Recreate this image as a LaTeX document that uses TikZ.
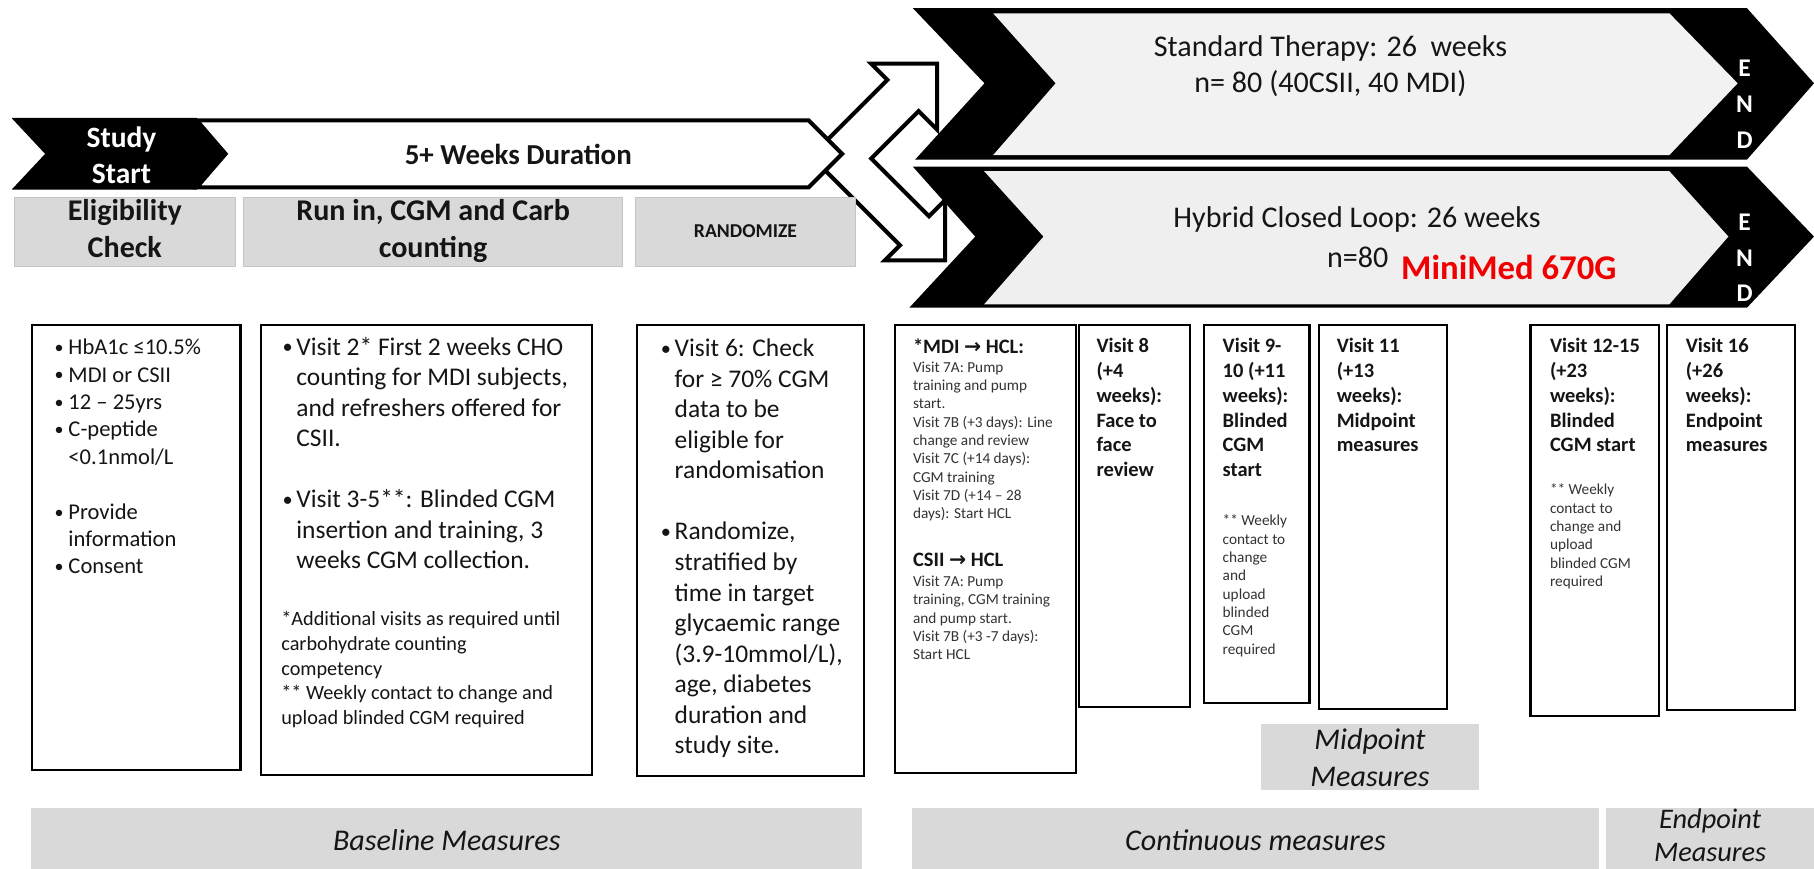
\documentclass[tikz,border=0pt]{standalone}
\usepackage{fontspec}
\usepackage{graphicx}
\setmainfont{Carlito}
\newfontfamily\dv{DejaVu Sans}
\definecolor{boxgrey}{HTML}{D9D9D9}
\definecolor{boxedge}{HTML}{C4C4C4}
\definecolor{lightfill}{HTML}{F2F2F2}
\definecolor{lightfillb}{HTML}{EFEFEF}
\definecolor{txtc}{HTML}{151515}
\definecolor{smallc}{HTML}{333333}
\definecolor{mmred}{HTML}{F00000}
\newcommand\tl[1]{\vtop{\halign{##\hfil\cr#1\crcr}}}
\newcommand\tcn[1]{\vtop{\halign{\hfil##\hfil\cr#1\crcr}}}
\newcommand\bl{\makebox[12pt][l]{\raisebox{0.1ex}{\scalebox{0.8}{•}}}}
\newcommand\ind{\hspace*{12pt}}
\begin{document}
\begin{tikzpicture}[x=1pt,y=-1pt,
  wbox/.style={draw=black, line width=1.8pt, fill=white, inner sep=0pt, anchor=north west},
  gbox/.style={draw=boxedge, line width=0.8pt, fill=boxgrey, inner sep=0pt, anchor=north west},
  gboxb/.style={draw=none, fill=boxgrey, inner sep=0pt, anchor=north west},
  arrowline/.style={draw=black, fill=white, line width=3.5pt, line join=miter},
  txt/.style={inner sep=0pt, anchor=base west, text=txtc},
  ctr/.style={inner sep=0pt, anchor=base, text=txtc},
  smalltxt/.style={txt, text=smallc, font=\fontsize{13.2}{15.85}\selectfont},
  boldvisit/.style={txt, font=\bfseries\fontsize{17.7}{21.4}\selectfont},
  bighead/.style={ctr, font=\bfseries\fontsize{26}{32}\selectfont},
  chevtxt/.style={ctr, font=\fontsize{26}{31}\selectfont},
  endtxt/.style={ctr, text=white, font=\bfseries\fontsize{22}{31}\selectfont},
  itxt/.style={ctr, font=\itshape\fontsize{26}{32}\selectfont}
]
\useasboundingbox (0,0) rectangle (1568,751);

% ---- right-hand therapy chevrons ----
\fill[black] (789,7) -- (1510,7) -- (1568,72) -- (1510,138) -- (791,138) -- (851,72) -- cycle;
\fill[lightfill] (858.5,11.5) -- (1443,11.5) -- (1502,72) -- (1443,134) -- (858.5,134) -- (912.5,72) -- cycle;
\fill[black] (789,144) -- (1510,144) -- (1568,204.5) -- (1510,266) -- (786,266) -- (843,204.5) -- cycle;
\fill[lightfillb] (850.7,148) -- (1443,148) -- (1494,204.5) -- (1443,263) -- (850.7,263) -- (902,204.5) -- cycle;

% ---- split (randomisation) arrow ----
\draw[arrowline] (715.5,120.5) -- (767,69) -- (753,55) -- (810,55) -- (810,112) -- (794,96)
  -- (753,137) -- (803,187) -- (817,173) -- (817,225) -- (765,225) -- (778,212) -- (713.5,147.5) -- cycle;

% ---- 5+ weeks arrow and study start chevron ----
\draw[arrowline] (170,104) -- (699,104) -- (728,133) -- (699,162) -- (170,162) -- (195,133) -- cycle;
\fill[black] (10,102) -- (170,102) -- (196,133) -- (170,164) -- (10,164) -- (39,133) -- cycle;

\node[ctr, text=white, font=\bfseries\fontsize{25.5}{31}\selectfont] (ss) at (105,127.5) {\tcn{Study\cr Start}};
\node[ctr, font=\bfseries\fontsize{25}{30}\selectfont] (dur) at (448,142) {5+ Weeks Duration};

% ---- chevron texts ----
\node[chevtxt] (stdt) at (1150,49) {\tcn{Standard Therapy: 26\ \ weeks\cr n= 80 (40CSII, 40 MDI)}};
\node[chevtxt] (hclt) at (1173,197) {Hybrid Closed Loop: 26 weeks};
\node[txt, font=\fontsize{26}{31}\selectfont] (n80) at (1147,231) {n=80};
\node[txt, text=mmred, font=\bfseries\fontsize{30}{36}\selectfont] (mm) at (1211,242) {MiniMed 670G};
\node[endtxt] (end1) at (1508,66) {\tcn{E\cr N\cr D}};
\node[endtxt] (end2) at (1508,199) {\tcn{E\cr N\cr D}};

% ---- grey header boxes ----
\node[gbox, minimum width=191pt, minimum height=59pt] (elig) at (12,170.5) {};
\node[gbox, minimum width=328pt, minimum height=59pt] (runin) at (210,170.5) {};
\node[gbox, minimum width=190pt, minimum height=59pt] (rand) at (549,170.5) {};
\node[bighead] (eligt) at (elig.north |- 0,191) {\tcn{Eligibility\cr Check}};
\node[bighead] (runint) at (runin.north |- 0,191) {\tcn{Run in, CGM and Carb\cr counting}};
\node[ctr, font=\bfseries\fontsize{17}{20}\selectfont] (randt) at (rand.north |- 0,205.5) {RANDOMIZE};

% ---- white detail boxes ----
\node[wbox, minimum width=180pt, minimum height=385pt] (b1) at (27,280) {};
\node[wbox, minimum width=286pt, minimum height=389pt] (b2) at (225,280) {};
\node[wbox, minimum width=196pt, minimum height=390pt] (b3) at (550,280) {};
\node[wbox, minimum width=156pt, minimum height=387pt] (b4) at (773,280) {};
\node[wbox, minimum width=96pt, minimum height=330pt] (b5) at (932,280) {};
\node[wbox, minimum width=91pt, minimum height=327pt] (b6) at (1040,280) {};
\node[wbox, minimum width=111pt, minimum height=332pt] (b7) at (1139,280) {};
\node[wbox, minimum width=111pt, minimum height=338pt] (b8) at (1322,280) {};
\node[wbox, minimum width=111pt, minimum height=333pt] (b9) at (1440,280) {};

\node[txt, font=\fontsize{19.5}{23.7}\selectfont] (b1t) at (47,306.5)
 {\tl{\bl HbA1c ≤10.5\%\cr \bl MDI or CSII\cr \bl 12 – 25yrs\cr \bl C-peptide\cr \ind <0.1nmol/L\cr
 \noalign{\vskip23.7pt}\bl Provide\cr \ind information\cr \bl Consent\cr}};

\node[txt, font=\fontsize{22}{26.4}\selectfont] (b2t) at (244,307)
 {\tl{\bl Visit 2* First 2 weeks CHO\cr \ind counting for MDI subjects,\cr \ind and refreshers offered for\cr \ind CSII.\cr
 \noalign{\vskip26.4pt}\bl Visit 3-5**: Blinded CGM\cr \ind insertion and training, 3\cr \ind weeks CGM collection.\cr}};
\node[txt, font=\fontsize{17.5}{21.3}\selectfont] (b2s) at (243,541)
 {\tl{*Additional visits as required until\cr carbohydrate counting\cr competency\cr ** Weekly contact to change and\cr upload blinded CGM required\cr}};

\node[txt, font=\fontsize{22}{26.4}\selectfont] (b3t) at (571,308.3)
 {\tl{\bl Visit 6: Check\cr \ind for ≥ 70\% CGM\cr \ind data to be\cr \ind eligible for\cr \ind randomisation\cr
 \noalign{\vskip26.4pt}\bl Randomize,\cr \ind stratified by\cr \ind time in target\cr \ind glycaemic range\cr \ind (3.9-10mmol/L),\cr
 \ind age, diabetes\cr \ind duration and\cr \ind study site.\cr}};

\node[boldvisit] (b4h1) at (789,305.5) {*MDI {\dv →} HCL:};
\node[smalltxt] (b4s1) at (789,321.8)
 {\tl{Visit 7A: Pump\cr training and pump\cr start.\cr Visit 7B (+3 days): Line\cr change and review\cr Visit 7C (+14 days):\cr CGM training\cr Visit 7D (+14 – 28\cr days): Start HCL\cr}};
\node[boldvisit] (b4h2) at (789,490) {CSII {\dv →} HCL};
\node[smalltxt] (b4s2) at (789,507)
 {\tl{Visit 7A: Pump\cr training, CGM training\cr and pump start.\cr Visit 7B (+3 -7 days):\cr Start HCL\cr}};

\node[boldvisit] (b5t) at (947.6,305) {\tl{Visit 8\cr (+4\cr weeks):\cr Face to\cr face\cr review\cr}};
\node[boldvisit] (b6t) at (1056.7,305) {\tl{Visit 9-\cr 10 (+11\cr weeks):\cr Blinded\cr CGM\cr start\cr}};
\node[smalltxt] (b6s) at (1056.7,454.4) {\tl{** Weekly\cr contact to\cr change\cr and\cr upload\cr blinded\cr CGM\cr required\cr}};
\node[boldvisit] (b7t) at (1155.3,305) {\tl{Visit 11\cr (+13\cr weeks):\cr Midpoint\cr measures\cr}};
\node[boldvisit] (b8t) at (1339.6,305) {\tl{Visit 12-15\cr (+23\cr weeks):\cr Blinded\cr CGM start\cr}};
\node[smalltxt] (b8s) at (1339.6,427.8) {\tl{** Weekly\cr contact to\cr change and\cr upload\cr blinded CGM\cr required\cr}};
\node[boldvisit] (b9t) at (1457,305) {\tl{Visit 16\cr (+26\cr weeks):\cr Endpoint\cr measures\cr}};

% ---- grey measure boxes ----
\node[gboxb, minimum width=188pt, minimum height=57pt] (mid) at (1090,626) {};
\node[gboxb, minimum width=718pt, minimum height=52.5pt] (base) at (27,698.5) {};
\node[gboxb, minimum width=594pt, minimum height=52.5pt] (cont) at (788,698.5) {};
\node[gboxb, minimum width=180pt, minimum height=52.5pt] (endp) at (1388,698.5) {};
\node[itxt] (midt) at (mid.north |- 0,648) {\tcn{Midpoint\cr Measures}};
\node[itxt] (baset) at (base.north |- 0,735.5) {Baseline Measures};
\node[itxt] (contt) at (cont.north |- 0,735.5) {Continuous measures};
\node[ctr, font=\itshape\fontsize{24.5}{29}\selectfont] (endpt) at (endp.north |- 0,716) {\tcn{Endpoint\cr Measures}};
\end{tikzpicture}
\end{document}
